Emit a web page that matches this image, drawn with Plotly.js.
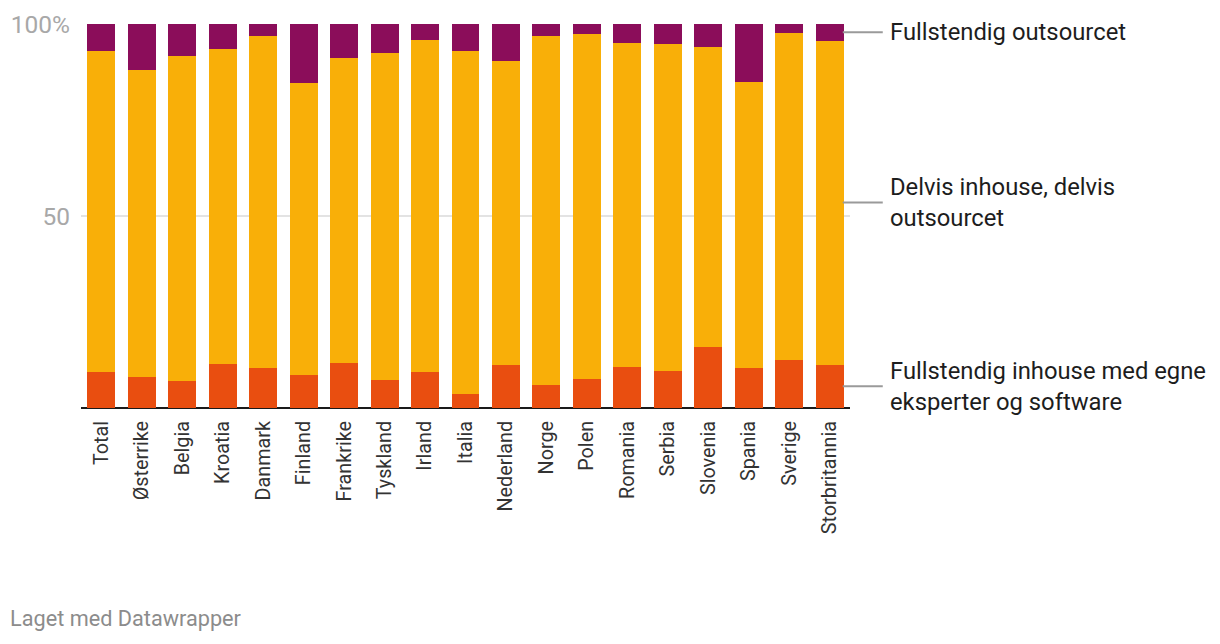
<!DOCTYPE html>
<html><head><meta charset="utf-8">
<script src="https://cdn.plot.ly/plotly-3.0.1.min.js"></script>
<style>html,body{margin:0;padding:0;background:#fff}#chart{width:1220px;height:644px}</style>
</head><body><div id="chart"></div>
<script>
const categories = ["Total","Østerrike","Belgia","Kroatia","Danmark","Finland","Frankrike","Tyskland","Irland","Italia","Nederland","Norge","Polen","Romania","Serbia","Slovenia","Spania","Sverige","Storbritannia"];
const inhouse   = [9.5, 8.2, 7.1, 11.5, 10.5, 8.7, 11.8, 7.4, 9.5, 3.7, 11.3, 6.1, 7.6, 10.8, 9.7, 16.0, 10.5, 12.6, 11.3];
const delvis    = [83.5, 79.9, 84.6, 82.1, 86.5, 76.0, 79.4, 85.1, 86.4, 89.3, 79.1, 90.9, 89.9, 84.3, 85.2, 78.1, 74.5, 85.1, 84.4];
const outsourcet= [7.0, 11.9, 8.3, 6.4, 3.0, 15.3, 8.8, 7.5, 4.1, 7.0, 9.6, 3.0, 2.5, 4.9, 5.1, 5.9, 15.0, 2.3, 4.3];
const seriesNames = ["Fullstendig inhouse med egne<br>eksperter og software", "Delvis inhouse, delvis<br>outsourcet", "Fullstendig outsourcet"];
const colors = ["#e94e10", "#f9af08", "#8b0d5a"];
const yTickVals = [50, 100];
const yTickText = ["50", "100%"];

const series = [inhouse, delvis, outsourcet];
const traces = series.map((vals, i) => ({
  type: "bar", x: categories, y: vals, name: seriesNames[i],
  marker: {color: colors[i], line: {width: 0}}, hoverinfo: "skip"
}));

// label positions: middle of each segment of the last bar
const last = categories.length - 1;
let base = 0;
const mids = series.map(vals => { const m = base + vals[last] / 2; base += vals[last]; return m; });

const FONT = "Roboto, 'Noto Sans', sans-serif";
const annotations = seriesNames.map((t, i) => ({
  xref: "paper", yref: "y", x: 1.049, y: mids[i], xanchor: "left", yanchor: "middle",
  text: t, showarrow: false, align: "left",
  font: {family: FONT, size: 23.8, color: "#1d1d1d"}
}));
annotations.push({
  xref: "paper", yref: "paper", x: -0.0945, y: -0.547, xanchor: "left", yanchor: "middle",
  text: "Laget med Datawrapper", showarrow: false,
  font: {family: FONT, size: 21.7, color: "#8c8c8c"}
});
const shapes = mids.map(m => ({
  type: "line", xref: "paper", yref: "y", x0: 0.9906, x1: 1.0426, y0: m, y1: m,
  line: {color: "#9a9a9a", width: 2}
}));

const layout = {
  width: 1220, height: 644,
  margin: {l: 81, r: 370, t: 24, b: 236, pad: 0},
  paper_bgcolor: "#fff", plot_bgcolor: "#fff",
  barmode: "stack", bargap: 0.31, showlegend: false,
  font: {family: FONT},
  xaxis: {
    type: "category", tickangle: -90, range: [-0.5, categories.length - 0.5],
    tickfont: {family: FONT, size: 19.8, color: "#333"},
    showgrid: false, ticks: "", showline: false, zeroline: false, ticklabelstandoff: 8
  },
  yaxis: {
    range: [0, 100], tickvals: yTickVals, ticktext: yTickText,
    tickfont: {family: FONT, size: 24.5, color: "#a8a8a8"},
    showgrid: true, gridcolor: "#e3e3e3", gridwidth: 2,
    zeroline: true, zerolinecolor: "#1a1a1a", zerolinewidth: 2,
    ticks: "", showline: false, ticklabelstandoff: 10
  },
  annotations: annotations, shapes: shapes
};
Plotly.newPlot("chart", traces, layout, {displayModeBar: false, staticPlot: true});
</script></body></html>
